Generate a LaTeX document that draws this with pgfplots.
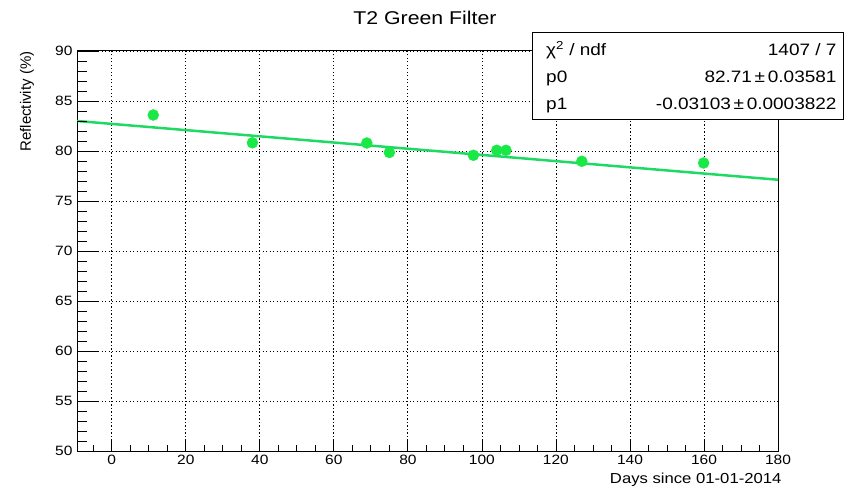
\documentclass[border=0pt]{standalone}
\usepackage{fontspec}
\setmainfont{Liberation Sans}[FakeStretch=1.15]
\newfontfamily\ylabelfont{Liberation Sans}
\usepackage{pgfplots}
\usepackage{pgfplotstable}
\pgfplotsset{compat=1.18}

\definecolor{ptgreen}{RGB}{25,232,70}
\definecolor{fitgreen}{RGB}{30,218,100}

% reflectivity measurements, T2 green filter
\pgfplotstableread{
day   refl
11.2  83.60
38.0  80.82
68.9  80.80
75.0  79.85
97.7  79.57
104.0 80.07
106.5 80.07
127.0 78.97
159.9 78.80
}\reflectivity

% linear fit p0 + p1*x evaluated at the axis ends
\pgfplotstableread{
day    refl
-9.4   83.002
180.0  77.125
}\fitline

\pgfplotsset{
  rootframe/.style={
    at={(77pt,37pt)}, anchor=south west,
    scale only axis, width=701pt, height=400pt,
    xmin=-9.4, xmax=180, ymin=50, ymax=90,
    xtick={0,20,...,180}, ytick={50,55,...,90},
    minor xtick={-5,5,10,15,25,30,35,45,50,55,65,70,75,85,90,95,105,110,115,125,130,135,145,150,155,165,170,175},
    minor y tick num=4,
    tick align=inside, xtick pos=bottom, ytick pos=left,
    tick style={black, line width=0.8pt},
    /pgf/number format/assume math mode=true,
  }
}

\begin{document}
\begin{tikzpicture}
\useasboundingbox (0pt,0pt) rectangle (844pt,488pt);

\begin{axis}[rootframe,
    major tick length=12pt, minor tick length=6pt,
    grid=major,
    major grid style={black, line width=0.8pt, dash pattern=on 1.1pt off 2.4pt},
    axis line style={black, line width=1pt},
    ticklabel style={font=\fontsize{13.5}{14}\selectfont},
    xticklabel style={yshift=-1pt},
    yticklabel style={xshift=-1pt},
  ]
  \addplot[only marks, mark=*, mark size=5.5pt, draw=ptgreen, fill=ptgreen]
    table[x=day, y=refl]{\reflectivity};
  \addplot[fitgreen, line width=2.5pt] table[x=day, y=refl]{\fitline};
\end{axis}

% longer ticks on the vertical axis
\begin{axis}[rootframe,
    major tick length=21pt, minor tick length=10pt,
    xtick=\empty, minor xtick={}, yticklabels={}, axis line style={draw=none},
  ]
\end{axis}

% title and axis titles
\node[font=\fontsize{18.5}{20}\selectfont] at (425pt,470pt) {T2 Green Filter};
\node[rotate=90, anchor=east, font=\ylabelfont\fontsize{15}{16}\selectfont]
  at (27pt,440pt) {Reflectivity (\%)};
\node[anchor=base east, font=\fontsize{14.5}{15}\selectfont]
  at (785pt,5pt) {Days since 01-01-2014};

% fit statistics box
\draw[black, line width=1pt, fill=white] (532pt,455.5pt) rectangle (843.5pt,368pt);
\begin{scope}[font=\fontsize{16.5}{17}\selectfont]
  \node[anchor=base west, inner sep=0pt] at (546pt,432.7pt) {χ\textsuperscript{2} / ndf};
  \node[anchor=base east, inner sep=0pt] at (836.7pt,432.7pt) {1407 / 7};
  \node[anchor=base west, inner sep=0pt] at (546pt,405.7pt) {p0};
  \node[anchor=base east, inner sep=0pt] at (836.7pt,405.7pt) {82.71\,±\,0.03581};
  \node[anchor=base west, inner sep=0pt] at (546pt,378.7pt) {p1};
  \node[anchor=base east, inner sep=0pt] at (836.7pt,378.7pt) {-0.03103\,±\,0.0003822};
\end{scope}
\end{tikzpicture}
\end{document}
